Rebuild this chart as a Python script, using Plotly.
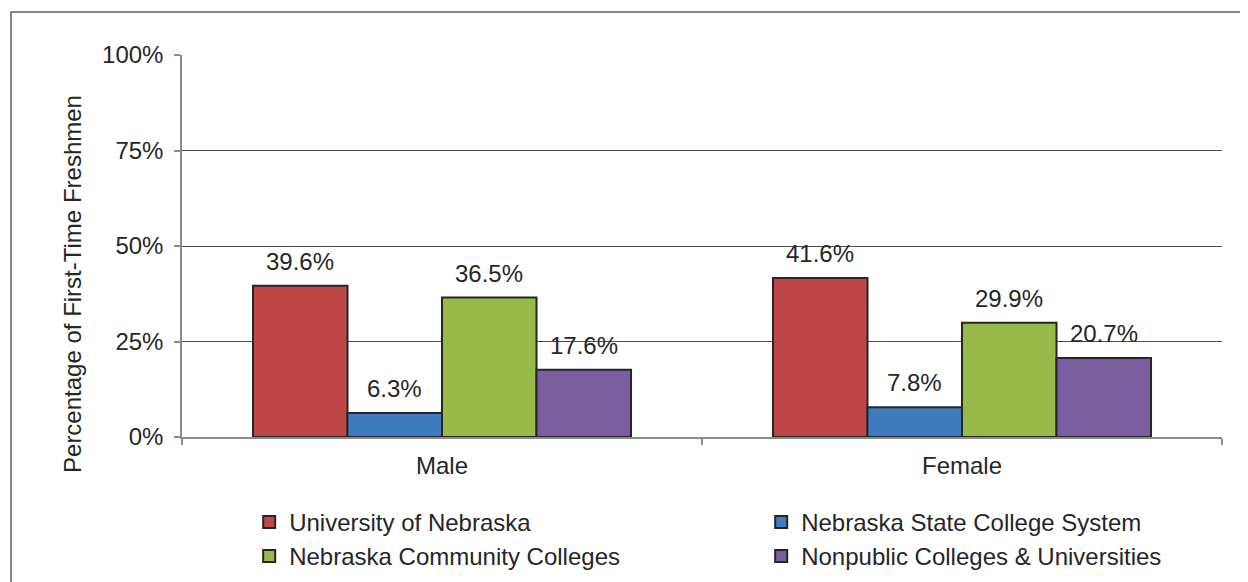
import plotly.graph_objects as go

categories = ["Male", "Female"]
series_names = [
    "University of Nebraska",
    "Nebraska State College System",
    "Nebraska Community Colleges",
    "Nonpublic Colleges & Universities",
]
unl = [39.6, 41.6]
nscs = [6.3, 7.8]
ncc = [36.5, 29.9]
nonpublic = [17.6, 20.7]
series_values = [unl, nscs, ncc, nonpublic]
colors = ["#BF4646", "#3F7BBE", "#98BA4B", "#7B5EA0"]
y_ticks = [0, 25, 50, 75, 100]
y_tick_labels = ["0%", "25%", "50%", "75%", "100%"]

FONT = "Liberation Sans, Arial, sans-serif"
TXT = "#262626"
FS = 24
BARGAP = 0.273

fig = go.Figure()
for name, vals, col in zip(series_names, series_values, colors):
    fig.add_trace(go.Bar(
        x=categories, y=vals, name=name,
        marker=dict(color=col, line=dict(color="#262626", width=2)),
    ))

# value labels above bars
n = len(series_values)
w = (1 - BARGAP) / n
for i, vals in enumerate(series_values):
    for j, v in enumerate(vals):
        fig.add_annotation(
            x=j + (i - (n - 1) / 2) * w, y=v, xref="x", yref="y",
            text=f"{v:.1f}%", showarrow=False, yanchor="bottom", yshift=9,
            font=dict(family=FONT, size=FS, color=TXT),
        )

# y-axis title
fig.add_annotation(
    x=-0.1058, y=0.4005, xref="paper", yref="paper",
    xanchor="center", yanchor="middle",
    text="Percentage of First-Time Freshmen", textangle=-90, showarrow=False,
    font=dict(family=FONT, size=FS, color=TXT),
)

# outer border (chart area frame)
fig.add_shape(
    type="rect", xref="paper", yref="paper",
    x0=-0.1644, x1=1.2, y0=-0.5, y1=1.1126,
    line=dict(color="#5f5f5f", width=1.5), fillcolor="rgba(0,0,0,0)", layer="below",
)

fig.update_layout(
    width=1240, height=574,
    margin=dict(l=174, r=26, t=47, b=145, autoexpand=False),
    paper_bgcolor="white", plot_bgcolor="white",
    barmode="group", bargap=BARGAP, bargroupgap=0,
    font=dict(family=FONT, size=FS, color=TXT),
    showlegend=True,
    legend=dict(
        orientation="h", x=0.0646, xanchor="left", y=-0.1644, yanchor="top",
        entrywidth=467, entrywidthmode="pixels",
        font=dict(family=FONT, size=FS, color=TXT),
        itemwidth=30, tracegroupgap=0, bgcolor="rgba(0,0,0,0)",
    ),
    xaxis=dict(
        type="category", showline=True, linecolor="#8c8c8c", linewidth=1.5,
        ticks="outside", tickson="boundaries", ticklen=6, tickcolor="#8c8c8c",
        tickwidth=1.5, showgrid=False, tickfont=dict(size=FS, color=TXT),
        range=[-0.5, 1.5], ticklabelstandoff=6,
    ),
    yaxis=dict(
        range=[0, 100], tickmode="array", tickvals=y_ticks, ticktext=y_tick_labels,
        showline=True, linecolor="#8c8c8c", linewidth=1.5,
        ticks="outside", ticklen=6, tickcolor="#8c8c8c", tickwidth=1.5,
        showgrid=True, gridcolor="#4d4d4d", gridwidth=1, zeroline=False,
        tickfont=dict(size=FS, color=TXT), ticklabelstandoff=6,
    ),
)

fig.write_html("out.html")
